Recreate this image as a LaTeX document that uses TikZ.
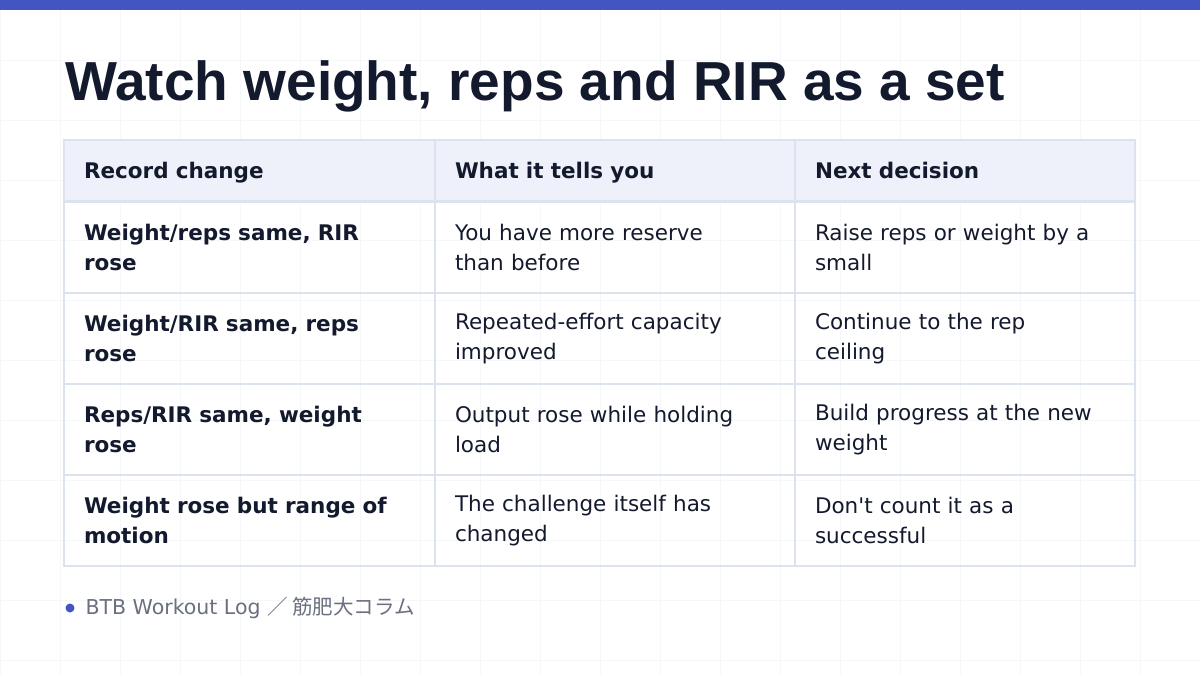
\documentclass[tikz,border=0pt]{standalone}
\usepackage{fontspec}
\setmainfont{DejaVu Sans}
\newfontfamily\titlefont{Liberation Sans}
\newfontfamily\cjk{Noto Sans CJK JP}
\definecolor{ink}{HTML}{141A2E}
\definecolor{accent}{HTML}{4355C0}
\definecolor{headfill}{HTML}{EEF0FA}
\definecolor{rule}{HTML}{DDE2EF}
\definecolor{gridc}{HTML}{F6F7F9}
\definecolor{muted}{HTML}{6B7080}
\tikzset{
  cell/.style={draw=rule, line width=1.5pt, minimum height=91pt, inner xsep=20pt, inner ysep=0pt, align=left, font=\fontsize{21.5}{30}\selectfont, text=ink},
  bold/.style={font=\fontsize{21.5}{30}\selectfont\bfseries},
  head/.style={cell, bold, fill=headfill, minimum height=61pt, text height=18pt, text depth=3pt},
  c1/.style={minimum width=371pt, text width=331pt},
  c2/.style={minimum width=360pt, text width=320pt},
  c3/.style={minimum width=340pt, text width=300pt},
}
\begin{document}
\begin{tikzpicture}[x=1pt, y=-1pt]
    \useasboundingbox (0,0) rectangle (1200,675);
    \fill[white] (0,0) rectangle (1200,675);
    \draw[gridc, line width=1pt, step=60pt] (0,0) grid (1200,675);
    \fill[accent] (0,0) rectangle (1200,10);

    \node[anchor=west, font=\fontsize{55}{60}\selectfont\titlefont\bfseries, text=ink] (title) at (62, 86) {Watch weight, reps and RIR as a set};

    \node[head, c1] (h1) at (249.5, 170.5) {Record change};
    \node[head, c2] (h2) at (615, 170.5) {What it tells you};
    \node[head, c3] (h3) at (965, 170.5) {Next decision};

    \node[cell, c1, bold] (r1a) at (249.5, 247.5) {Weight/reps same, RIR\\rose};
    \node[cell, c2] (r1b) at (615, 247.5) {You have more reserve\\than before};
    \node[cell, c3] (r1c) at (965, 247.5) {Raise reps or weight by a\\small};

    \node[cell, c1, bold] (r2a) at (249.5, 338.5) {Weight/RIR same, reps\\rose};
    \node[cell, c2] (r2b) at (615, 338.5) {Repeated-effort capacity\\improved};
    \node[cell, c3] (r2c) at (965, 338.5) {Continue to the rep\\ceiling};

    \node[cell, c1, bold] (r3a) at (249.5, 429.5) {Reps/RIR same, weight\\rose};
    \node[cell, c2] (r3b) at (615, 429.5) {Output rose while holding\\load};
    \node[cell, c3] (r3c) at (965, 429.5) {Build progress at the new\\weight};

    \node[cell, c1, bold] (r4a) at (249.5, 520.5) {Weight rose but range of\\motion};
    \node[cell, c2] (r4b) at (615, 520.5) {The challenge itself has\\changed};
    \node[cell, c3] (r4c) at (965, 520.5) {Don\textquotesingle t count it as a\\successful};

    \fill[accent] (70, 608) circle (4.5pt);
    \node[anchor=west, font=\fontsize{20.5}{24}\selectfont, text=muted] (foot) at (82, 608) {BTB Workout Log {\cjk ／ 筋肥大コラム}};
\end{tikzpicture}
\end{document}
